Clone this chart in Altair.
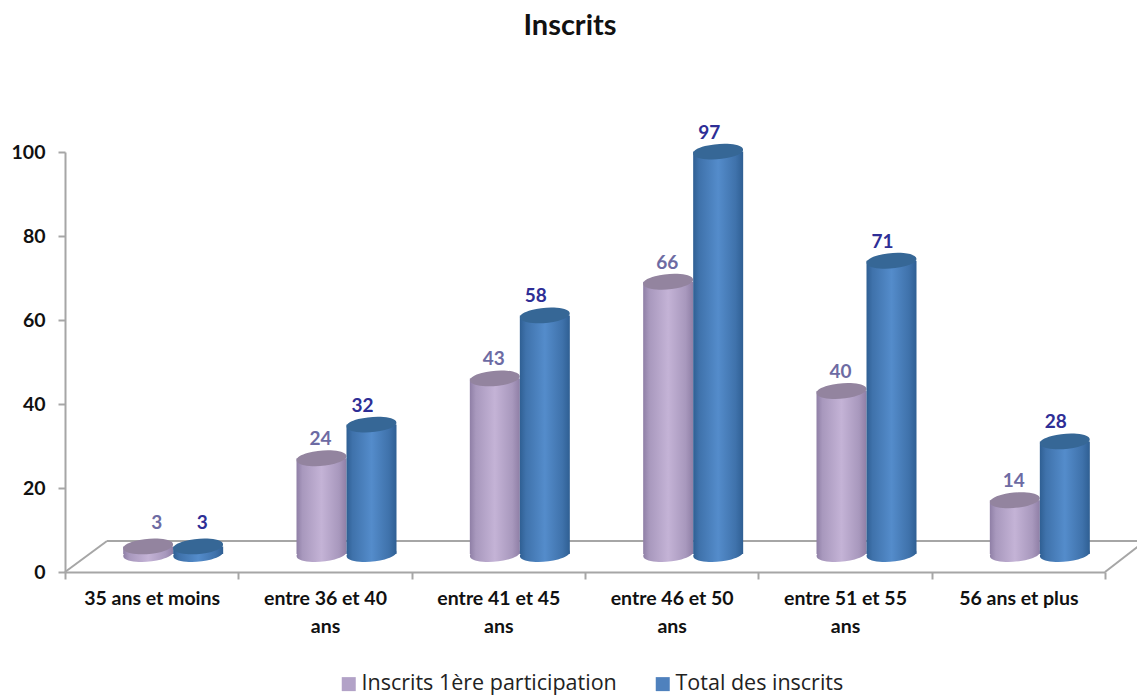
import altair as alt
import pandas as pd

categories = ["35 ans et moins", "entre 36 et 40|ans", "entre 41 et 45|ans",
              "entre 46 et 50|ans", "entre 51 et 55|ans", "56 ans et plus"]
first_participation = [3, 24, 43, 66, 40, 14]
total_inscrits = [3, 32, 58, 97, 71, 28]
series_names = ["Inscrits 1ère participation", "Total des inscrits"]

FONT = "Lato"
LIFT = -13
BASE_LIFT = -18
ELLIPSE = "M-0.996,0.087 A1,0.3 -5 1 0 0.996,-0.087 A1,0.3 -5 1 0 -0.996,0.087 Z"

rows = []
for c, a, b in zip(categories, first_participation, total_inscrits):
    rows.append({"cat": c, "series": series_names[0], "value": a, "base": 0})
    rows.append({"cat": c, "series": series_names[1], "value": b, "base": 0})
df = pd.DataFrame(rows)

x_enc = alt.X("cat:N", sort=categories, title=None, scale=alt.Scale(paddingInner=0, paddingOuter=0),
              axis=alt.Axis(labelExpr="split(datum.label,'|')", labelAngle=0, labelFont=FONT, labelFontWeight="bold",
                            labelFontSize=19.5, labelColor="#111111", labelPadding=10, labelLineHeight=28,
                            labelLimit=200, tickBand="extent", tickSize=7, tickColor="#a6a6a6", tickWidth=2,
                            domainColor="#a6a6a6", domainWidth=2, grid=False, labelOverlap=False))
y_scale = alt.Scale(domain=[0, 100], nice=False)
y_axis = alt.Axis(values=[0, 20, 40, 60, 80, 100], labelFont=FONT, labelFontWeight="bold", labelFontSize=19.5,
                  labelColor="#111111", labelPadding=13, tickSize=7, tickColor="#a6a6a6", tickWidth=2,
                  domainColor="#a6a6a6", domainWidth=2, grid=False)
y_enc = alt.Y("value:Q", title=None, scale=y_scale, axis=y_axis)
y_base = alt.Y("base:Q", title=None, scale=y_scale, axis=y_axis)


def grad(dark, mid, light):
    return alt.Gradient(gradient="linear", x1=0, y1=0, x2=1, y2=0,
                        stops=[alt.GradientStop(offset=0, color=dark),
                               alt.GradientStop(offset=0.12, color=mid),
                               alt.GradientStop(offset=0.5, color=light),
                               alt.GradientStop(offset=0.85, color=mid),
                               alt.GradientStop(offset=1, color=dark)])


def cylinder(name, off, body, top):
    d = alt.Chart(df).transform_filter(alt.datum.series == name)
    bottom = d.mark_point(shape=ELLIPSE, filled=True, size=2500, opacity=1, color=body, xOffset=off,
                          yOffset=BASE_LIFT, strokeWidth=0).encode(x=x_enc, y=y_base)
    bar = d.mark_bar(width=50, color=body, xOffset=off, yOffset=LIFT, y2Offset=BASE_LIFT).encode(
        x=x_enc, y=y_enc, y2=alt.Y2("base:Q"))
    head = d.mark_point(shape=ELLIPSE, filled=True, size=2500, opacity=1, color=top, xOffset=off,
                        yOffset=LIFT, strokeWidth=0).encode(x=x_enc, y=y_enc)
    return bottom + bar + head


def labels(name, off, off_first, color):
    d = alt.Chart(df).transform_filter(alt.datum.series == name)
    rest = d.transform_filter(alt.datum.cat != categories[0]).mark_text(
        font=FONT, fontWeight="bold", fontSize=19, color=color, xOffset=off, yOffset=LIFT - 19).encode(
        x=x_enc, y=y_enc, text="value:Q")
    first = d.transform_filter(alt.datum.cat == categories[0]).mark_text(
        font=FONT, fontWeight="bold", fontSize=19, color=color, xOffset=off_first, yOffset=LIFT - 23).encode(
        x=x_enc, y=y_enc, text="value:Q")
    return rest + first


floor_df = pd.DataFrame({"k": [1]})
floor_color = "#a6a6a6"
floor = alt.layer(
    alt.Chart(floor_df).mark_rule(color=floor_color, strokeWidth=2).encode(
        x=alt.value(0), x2=alt.value(42), y=alt.value(420), y2=alt.value(389)),
    alt.Chart(floor_df).mark_rule(color=floor_color, strokeWidth=2).encode(
        x=alt.value(42), x2=alt.value(1080), y=alt.value(389), y2=alt.value(389)),
    alt.Chart(floor_df).mark_rule(color=floor_color, strokeWidth=2, clip=False).encode(
        x=alt.value(1040), x2=alt.value(1080), y=alt.value(420), y2=alt.value(389)),
)

legend_layer = alt.Chart(df).mark_square(size=0, opacity=1).encode(
    x=x_enc, y=y_enc,
    color=alt.Color("series:N", sort=series_names,
                    scale=alt.Scale(domain=series_names, range=["#b2a2c7", "#4f81bd"]),
                    legend=alt.Legend(title=None, orient="none", direction="horizontal", legendX=273, legendY=521,
                                      symbolType="square", symbolSize=196, symbolOpacity=1, symbolStrokeWidth=0,
                                      labelFont="Open Sans", labelFontSize=21.5, labelColor="#222222", columnPadding=35,
                                      labelOffset=2, labelLimit=400)))

chart = alt.layer(
    floor,
    cylinder(series_names[0], -3.5, grad("#8f7fa6", "#a898bd", "#c4b3d6"), "#93849f"),
    cylinder(series_names[1], 46.5, grad("#2f5f93", "#3f72ab", "#548ccb"), "#366796"),
    labels(series_names[0], -4.5, 5, "#6d6ba3"),
    labels(series_names[1], 37.5, 50.5, "#2e2e96"),
    legend_layer,
).resolve_scale(x="shared", y="shared").properties(
    width=1040, height=420, background="white",
    title=alt.TitleParams("Inscrits", font=FONT, fontSize=29, fontWeight="bold", color="#111111",
                          anchor="middle", dx=-15, offset=83),
    autosize=alt.AutoSizeParams(type="none"),
    padding={"left": 57, "top": 144, "right": 32, "bottom": 125},
).configure_view(stroke=None)

chart.save("out.html", embed_options={"renderer": "svg", "actions": False})
